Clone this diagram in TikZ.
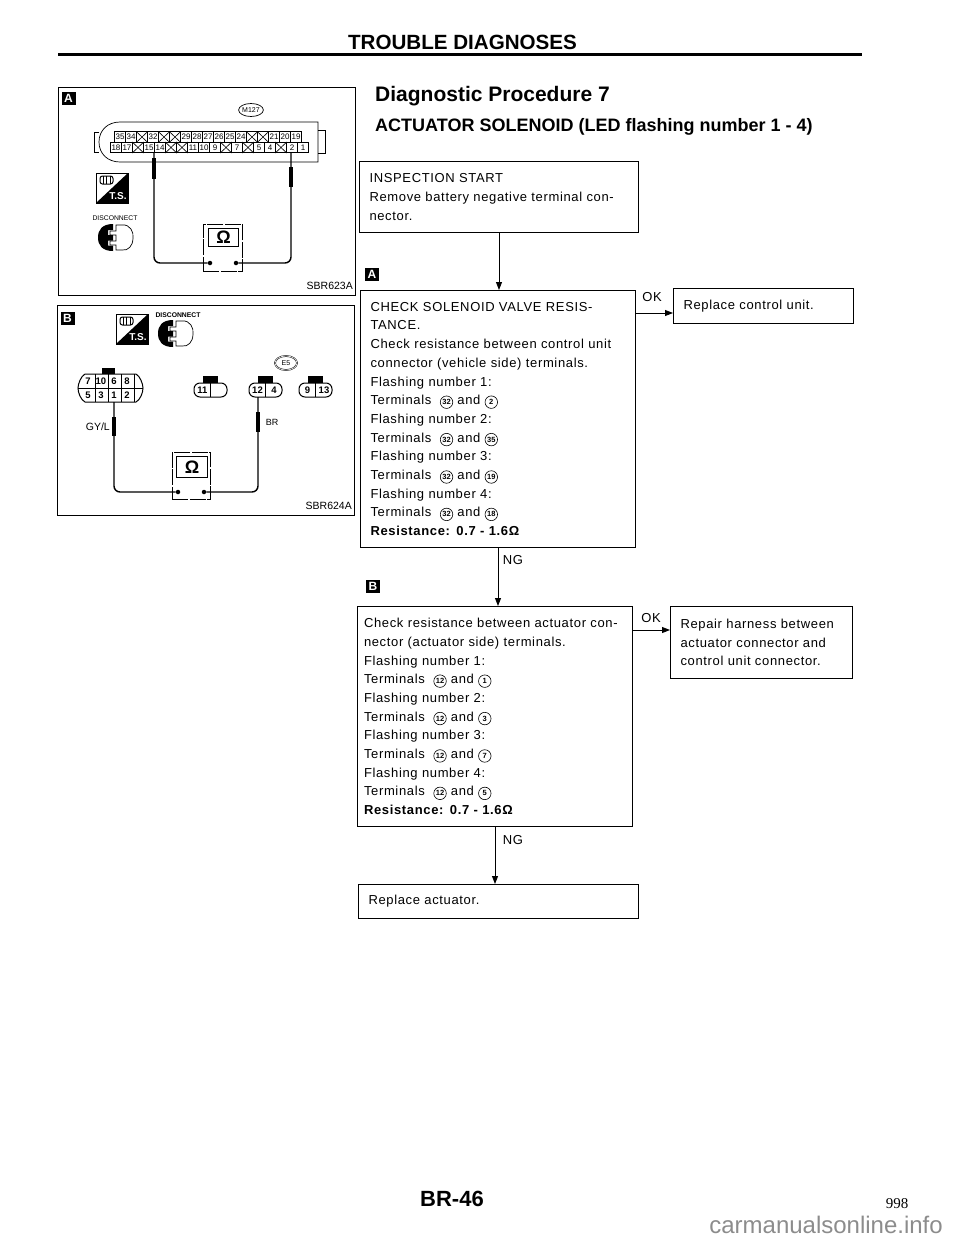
\documentclass[tikz,border=0pt]{standalone}
\usepackage{fontspec}
\setmainfont{Liberation Sans}
\newfontfamily\serifnum{Liberation Serif}
\newfontfamily\spaced[LetterSpace=5]{Liberation Sans}
\usetikzlibrary{arrows.meta,shapes.geometric}
\newcommand\fs[2]{\fontsize{#1}{#2}\selectfont}
\newcommand\cn[1]{\tikz[baseline=(cc.base),x=1cm,y=1cm]\node[draw,circle,line width=.6pt,inner sep=0pt,minimum size=12.5pt,font=\fontsize{7.5}{7.5}\selectfont\setmainfont{Liberation Sans}\bfseries] (cc) {#1};}
\newcommand\up[1]{\par\vspace*{#1}}
\def\xmark{X}
\tikzset{
  panel/.style={draw,line width=1pt,anchor=north west,inner sep=0pt},
  flowbox/.style={draw,line width=1pt,anchor=north west,inner sep=0pt,inner xsep=10pt,align=left,font=\fs{13}{18.7}\spaced},
  arr/.style={line width=.9pt,-{Triangle[length=8pt,width=6pt]}},
  tag/.style={fill=black,text=white,font=\fs{12}{12}\bfseries,minimum width=14pt,minimum height=13pt,inner sep=0pt},
  cell/.style={draw,line width=.7pt,minimum width=11pt,minimum height=10.5pt,inner sep=0pt,font=\fs{8}{8}},
  wire/.style={line width=1.4pt,rounded corners=6pt},
  probe/.style={line width=3.6pt},
  dot/.style={circle,fill=black,inner sep=0pt,minimum size=4.5pt},
  label/.style={font=\fs{10.5}{10.5}},
  meter/.style={draw,line width=.6pt,dash pattern=on 16pt off 1.5pt,inner sep=0pt,anchor=north west},
  meterin/.style={draw,line width=1pt,inner sep=0pt,anchor=north west,font=\fs{18}{18}\bfseries},
  conn/.style={line width=1pt},
  pin/.style={font=\fs{9.5}{9.5}\bfseries,inner sep=0pt},
  flowlabel/.style={font=\fs{13}{13}\spaced}
}
\newcommand\tsicon[3]{% x y name
  \begin{scope}[shift={(#1,#2)}]
    \node[draw,line width=.7pt,minimum width=32pt,minimum height=30pt,inner sep=0pt,anchor=north west] (#3) at (0,0) {};
    \fill (32,0) -- (32,30) -- (0,30) -- cycle;
    \draw[line width=1pt,rounded corners=2.5pt] (4,3) rectangle (17,11);
    \draw[line width=.6pt] (7,3) -- (7,11) (10.5,3) -- (10.5,11) (14,3) -- (14,11);
    \node[text=white,font=\fs{10}{10}\bfseries,inner sep=0pt] (#3t) at (22,23) {T.S.};
  \end{scope}}
\newcommand\discicon[3]{% x y name
  \begin{scope}[shift={(#1,#2)}]
    \fill (15,0) .. controls (4,0) and (0,6) .. (0,13.5) .. controls (0,21) and (4,27) .. (15,27)
      -- (15,21.5) -- (10,21.5) -- (10,16.5) -- (15,16.5) -- (15,11) -- (10,11) -- (10,6) -- (15,6) -- cycle;
    \draw[line width=.7pt] (18,1) -- (24,1) .. controls (32,0) and (36,8) .. (35,14)
      .. controls (35,22) and (30,27) .. (24,26) -- (18,26) -- (18,21) -- (12,21) -- (12,17) -- (18,17)
      -- (18,11) -- (12,11) -- (12,7) -- (18,7) -- cycle;
    \coordinate (#3) at (17,13);
  \end{scope}}
\begin{document}
\begin{tikzpicture}[x=1pt,y=-1pt,every node/.style={inner sep=0pt}]
\useasboundingbox (0,0) rectangle (960,1242);
% header
\node[font=\fs{20.6}{20.6}\bfseries] (title) at (462.5,42) {TROUBLE DIAGNOSES};
\coordinate (ruleL) at (58,54); \coordinate (ruleR) at (862,54);
\draw[line width=3pt] (ruleL) -- (ruleR);
\node[anchor=west,font=\fs{21}{21}\bfseries] (dp) at (375,96) {Diagnostic Procedure 7};
\node[anchor=west,font=\fs{18}{18}\bfseries] (act) at (375,127) {ACTUATOR SOLENOID (LED flashing number 1 - 4)};
% panel A
\node[panel,minimum width=297pt,minimum height=208pt] (pa) at (58,87) {};
\node[tag] (tagpa) at (68.5,98) {A};
\node[draw,ellipse,line width=.7pt,minimum width=23pt,minimum height=13pt,font=\fs{7}{7}] (m127) at (251,110) {M127};
% connector body A
\draw[line width=.7pt] (318,122) -- (120,122) .. controls (108,122) and (99,130) .. (99,142) .. controls (99,154) and (108,162) .. (120,162) -- (318,162) -- cycle;
\draw[line width=.7pt] (99,132) -- (94,132) -- (94,152) -- (99,152);
\draw[line width=.7pt] (318,130) -- (325,130) -- (325,153) -- (318,153);
\foreach \i/\lab in {0/35,1/34,2/X,3/32,4/X,5/X,6/29,7/28,8/27,9/26,10/25,11/24,12/X,13/X,14/21,15/20,16/19}{
  \node[cell] (ua\i) at (120+11*\i,137) {\ifx\lab\xmark\else\lab\fi};
  \ifx\lab\xmark \draw[line width=.6pt] (ua\i.north west) -- (ua\i.south east) (ua\i.north east) -- (ua\i.south west); \fi
}
\foreach \i/\lab in {0/18,1/17,2/X,3/15,4/14,5/X,6/X,7/11,8/10,9/9,10/X,11/7,12/X,13/5,14/4,15/X,16/2,17/1}{
  \node[cell] (la\i) at (116+11*\i,147.5) {\ifx\lab\xmark\else\lab\fi};
  \ifx\lab\xmark \draw[line width=.6pt] (la\i.north west) -- (la\i.south east) (la\i.north east) -- (la\i.south west); \fi
}
% meter A
\node[meter,minimum width=39pt,minimum height=47pt] (ma) at (203,224) {};
\node[meterin,minimum width=30pt,minimum height=18pt] (mai) at (208,228) {Ω};
\node[dot] (da1) at (210,263) {};
\node[dot] (da2) at (236,263) {};
\coordinate (pa1) at (154,152); \coordinate (pa2) at (291,152);
\draw[wire] (pa1) -- (pa1 |- da1) -- (da1);
\draw[wire] (pa2) -- (pa2 |- da2) -- (da2);
\draw[probe] (154,158) -- (154,179);
\draw[probe] (291,167) -- (291,187);
\tsicon{96}{173}{tsa}
\node[font=\fs{6.8}{6.8}] (dca) at (115,218) {DISCONNECT};
\discicon{98}{224}{dia}
\node[anchor=east,label] (sa) at (353,286) {SBR623A};
% panel B
\node[panel,minimum width=297pt,minimum height=210pt] (pb) at (57,305) {};
\node[tag] (tagpb) at (67.5,318) {B};
\tsicon{116}{314}{tsb}
\node[font=\fs{6.8}{6.8}\bfseries] (dcb) at (178,315) {DISCONNECT};
\discicon{158}{320}{dib}
\node[draw,ellipse,double,line width=.5pt,minimum width=22pt,minimum height=14pt,font=\fs{7}{7}] (e5) at (286,363) {E5};
% 8-pin
\draw[conn] (85,374) -- (136,374) .. controls (140,376) and (143,384) .. (143,388) .. controls (143,393) and (140,400) .. (136,402) -- (85,402) .. controls (81,400) and (78,393) .. (78,388) .. controls (78,384) and (81,376) .. (85,374) -- cycle;
\draw[conn] (78,388) -- (143,388) (95,374) -- (95,402) (108,374) -- (108,402) (121,374) -- (121,402) (134,374) -- (134,402);
\fill (102,368) rectangle (115,374);
\foreach \n/\lab/\px/\py in {p7/7/88/381,p10/10/101/381,p6/6/114/381,p8/8/127/381,p5/5/88/395,p3/3/101/395,p1/1/114/395,p2/2/127/395}
  \node[pin] (\n) at (\px,\py) {\lab};
% small connectors
\newcommand\smallconn[4]{% name x0 left right
  \draw[conn,rounded corners=6pt] (#2,383) rectangle (#2+33,397);
  \draw[conn] (#2+16.5,383) -- (#2+16.5,397);
  \fill (#2+9,376) rectangle (#2+24,383);
  \node[pin] (#1a) at (#2+8.5,390) {#3};
  \node[pin] (#1b) at (#2+25,390) {#4};
}
\smallconn{c11}{194}{11}{}
\smallconn{c12}{249}{12}{4}
\smallconn{c9}{299}{9}{13}
% meter B
\node[meter,minimum width=38pt,minimum height=47pt] (mb) at (172,452) {};
\node[meterin,minimum width=31pt,minimum height=21pt] (mbi) at (176,456) {Ω};
\node[dot] (db1) at (178,492) {};
\node[dot] (db2) at (204,492) {};
\coordinate (pb1) at (114,402); \coordinate (pb2) at (258,397);
\draw[wire] (pb1) -- (pb1 |- db1) -- (db1);
\draw[wire] (pb2) -- (pb2 |- db2) -- (db2);
\draw[probe] (114,417) -- (114,436);
\draw[probe] (258,412) -- (258,432);
\node[anchor=east,label] (gyl) at (110,427) {GY/L};
\node[font=\fs{9}{9}] (brl) at (272,422) {BR};
\node[anchor=east,label] (sb) at (352,506) {SBR624A};
% flow boxes
\node[flowbox,minimum width=279pt,minimum height=71pt,text width=259pt] (b1) at (359,161) {INSPECTION START\\Remove battery negative terminal con-\\nector.\up{4pt}};
\node[tag] (taga) at (372,274.5) {A};
\node[flowbox,minimum width=275pt,minimum height=257pt,text width=255pt] (b2) at (360,290) {CHECK SOLENOID VALVE RESIS-\\TANCE.\\Check resistance between control unit\\connector (vehicle side) terminals.\\Flashing number 1:\\Terminals\ \ \cn{32} and \cn{2}\\Flashing number 2:\\Terminals\ \ \cn{32} and \cn{35}\\Flashing number 3:\\Terminals\ \ \cn{32} and \cn{19}\\Flashing number 4:\\Terminals\ \ \cn{32} and \cn{18}\\\textbf{Resistance: 0.7 - 1.6Ω}\up{2pt}};
\node[flowbox,minimum width=180pt,minimum height=35pt,text width=160pt] (r1) at (673,288) {Replace control unit.};
\node[flowbox,anchor=north west,minimum width=275pt,minimum height=220pt,text width=262pt,inner xsep=6.5pt] (b3) at (357,606) {Check resistance between actuator con-\\nector (actuator side) terminals.\\Flashing number 1:\\Terminals\ \ \cn{12} and \cn{1}\\Flashing number 2:\\Terminals\ \ \cn{12} and \cn{3}\\Flashing number 3:\\Terminals\ \ \cn{12} and \cn{7}\\Flashing number 4:\\Terminals\ \ \cn{12} and \cn{5}\\\textbf{Resistance: 0.7 - 1.6Ω}\up{4pt}};
\node[flowbox,minimum width=182pt,minimum height=72pt,text width=162pt] (r2) at (670,606) {Repair harness between\\actuator connector and\\control unit connector.\up{4pt}};
\node[flowbox,minimum width=280pt,minimum height=34pt,text width=260pt,inner xsep=8pt] (b5) at (358,884) {Replace actuator.};
\node[tag] (tagb) at (373,586) {B};
% connectors
\draw[arr] (b1.south) -- (b1.south |- b2.north);
\draw[arr] (b2.south) -- (b2.south |- b3.north);
\draw[arr] (b3.south) -- (b3.south |- b5.north);
\coordinate (ok1) at (635,313); \coordinate (ok2) at (632,630);
\draw[arr] (ok1) -- (ok1 -| r1.west);
\draw[arr] (ok2) -- (ok2 -| r2.west);
\node[flowlabel] (okt1) at (652,297) {OK};
\node[flowlabel] (okt2) at (651,618) {OK};
\node[flowlabel] (ngt1) at (513,560) {NG};
\node[flowlabel] (ngt2) at (513,840) {NG};
% footer
\node[font=\fs{22}{22}\bfseries] (pg) at (452,1199) {BR-46};
\node[font=\fs{15}{15}\serifnum] (pn) at (897,1204) {998};
\node[anchor=base east,font=\fs{24}{24},text=black!45] (wm) at (943,1233) {carmanualsonline.info};
\end{tikzpicture}
\end{document}
